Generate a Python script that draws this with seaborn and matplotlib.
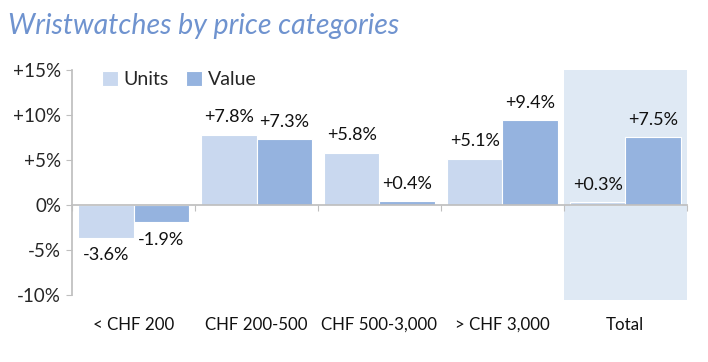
import numpy as np
import pandas as pd
import matplotlib
matplotlib.use("Agg")
import matplotlib.pyplot as plt
import matplotlib.transforms as mtransforms
import seaborn as sns

categories = ["< CHF 200", "CHF 200-500", "CHF 500-3,000", "> CHF 3,000", "Total"]
units = [-3.6, 7.8, 5.8, 5.1, 0.3]
value = [-1.9, 7.3, 0.4, 9.4, 7.5]
series = ["Units", "Value"]
yticks = [-10, -5, 0, 5, 10, 15]

df = pd.DataFrame({
    "category": categories * 2,
    "series": [series[0]] * len(categories) + [series[1]] * len(categories),
    "change": units + value,
})

sns.set_theme(style="white")
plt.rcParams["font.family"] = ["Lato", "DejaVu Sans"]

fig = plt.figure(figsize=(7.08, 3.62), dpi=100)
ax = fig.add_axes([0.102, 0.172, 0.868, 0.635])

# highlight the Total column
ax.axvspan(3.5, 4.5, color="#dfe9f4", zorder=0, lw=0)

palette = {"Units": "#c9d8ef", "Value": "#95b3df"}
sns.barplot(data=df, x="category", y="change", hue="series", palette=palette,
            width=0.9, ax=ax, zorder=2, saturation=1, edgecolor="white", linewidth=0.8)

for cont in ax.containers:
    labels = [f"{v:+.1f}%" for v in cont.datavalues]
    ax.bar_label(cont, labels=labels, padding=7, fontsize=13, color="#111111")

ax.set_xlim(-0.5, 4.5)
ax.set_ylim(-10.5, 15)
ax.set_yticks(yticks)
ax.set_yticklabels([f"{t:+d}%" if t != 0 else "0%" for t in yticks], fontsize=13.5)
ax.tick_params(axis="y", length=4, width=0.8, color="#bfbfbf", left=True, pad=4)

ax.spines["top"].set_visible(False)
ax.spines["right"].set_visible(False)
ax.spines["left"].set_bounds(-10, 15)
ax.spines["left"].set_color("#bfbfbf")
ax.spines["bottom"].set_position(("data", 0))
ax.spines["bottom"].set_color("#bfbfbf")

ax.set_xticks(np.arange(-0.5, 4.6, 1.0))
ax.set_xticklabels([])
ax.tick_params(axis="x", length=4, width=0.8, color="#bfbfbf", bottom=True, direction="out")
ax.set_xlabel("")
ax.set_ylabel("")

trans = mtransforms.blended_transform_factory(ax.transData, ax.transAxes)
for i, c in enumerate(categories):
    ax.text(i, -0.11, c, transform=trans, ha="center", va="center", fontsize=12.2, color="#111111")

leg = ax.legend(loc="upper left", bbox_to_anchor=(0.02, 1.07), ncol=2, frameon=False,
                fontsize=14, handlelength=0.8, handleheight=0.8, columnspacing=0.9,
                handletextpad=0.3)

fig.text(0.012, 0.928, "Wristwatches by price categories", fontsize=20.5, style="italic",
         color="#6f93cf", ha="left", va="center")

fig.savefig("out.png", dpi=100)
